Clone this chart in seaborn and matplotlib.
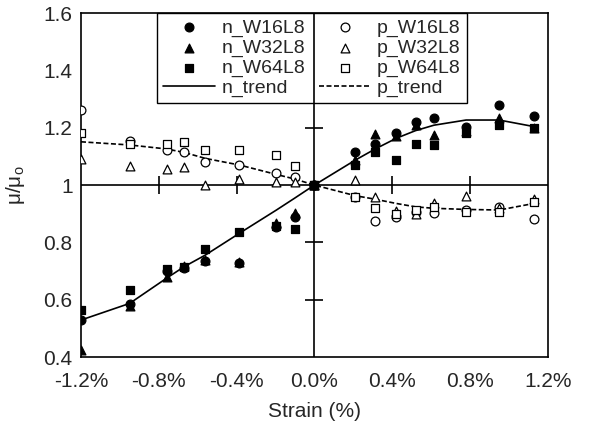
import numpy as np
import pandas as pd
import matplotlib
matplotlib.use("Agg")
import matplotlib.pyplot as plt
import seaborn as sns

# DATA

strain = [-1.2, -0.95, -0.76, -0.67, -0.56, -0.385, -0.195, -0.1, 0.0,
          0.21, 0.31, 0.42, 0.52, 0.615, 0.78, 0.95, 1.13]

n_W16L8 = [0.530, 0.585, 0.700, 0.712, 0.735, 0.727, 0.853, 0.887, 1.0,
           1.116, 1.145, 1.180, 1.221, 1.233, 1.204, 1.279, 1.241]
n_W32L8 = [0.425, 0.579, 0.680, 0.718, 0.740, 0.733, 0.866, 0.901, 1.0,
           1.087, 1.177, 1.170, 1.210, 1.174, 1.190, 1.233, 1.200]
n_W64L8 = [0.564, 0.634, 0.706, 0.715, 0.777, 0.837, 0.857, 0.846, 1.0,
           1.070, 1.116, 1.087, 1.145, 1.140, 1.180, 1.209, 1.198]

p_W16L8 = [1.262, 1.155, 1.122, 1.114, 1.081, 1.070, 1.043, 1.029, 1.0,
           0.960, 0.875, 0.890, 0.905, 0.901, 0.914, 0.924, 0.880]
p_W32L8 = [1.090, 1.068, 1.056, 1.064, 1.002, 1.021, 1.009, 1.009, 1.0,
           1.018, 0.959, 0.910, 0.900, 0.936, 0.962, 0.920, 0.951]
p_W64L8 = [1.180, 1.143, 1.145, 1.151, 1.122, 1.122, 1.105, 1.066, 1.0,
           0.959, 0.921, 0.898, 0.913, 0.925, 0.906, 0.907, 0.940]

n_trend = [0.529, 0.587, 0.675, 0.715, 0.756, 0.832, 0.913, 0.955, 1.0,
           1.087, 1.125, 1.163, 1.190, 1.209, 1.227, 1.227, 1.204]
p_trend = [1.151, 1.140, 1.126, 1.114, 1.093, 1.070, 1.037, 1.021, 1.0,
           0.963, 0.951, 0.936, 0.924, 0.919, 0.915, 0.913, 0.936]

x_ticks = [-1.2, -0.8, -0.4, 0.0, 0.4, 0.8, 1.2]
x_labels = ['-1.2%', '-0.8%', '-0.4%', '0.0%', '0.4%', '0.8%', '1.2%']
y_ticks = [0.4, 0.6, 0.8, 1.0, 1.2, 1.4, 1.6]
y_labels = ['0.4', '0.6', '0.8', '1', '1.2', '1.4', '1.6']

# STYLE

sns.set_style("white")
plt.rcParams['font.family'] = ['Liberation Sans', 'DejaVu Sans']
plt.rcParams['font.size'] = 14

fig = plt.figure(figsize=(5.89, 4.24), dpi=100)
ax = fig.add_axes([0.1375, 0.158, 0.7925, 0.811])

# zero lines through the plot (drawn over the legend box like the original)
ax.axhline(1.0, color='black', lw=1.2, zorder=2)
ax.axvline(0.0, color='black', lw=1.2, zorder=2)

# small cross ticks on the inner axis lines
inner_x = [t for t in x_ticks if t not in (-1.2, 0.0, 1.2)]
inner_y = [t for t in y_ticks if t not in (0.4, 1.0, 1.6)]
ax.plot(inner_x, [1.0] * len(inner_x), ls='none', marker='|', ms=13,
        mew=1.2, color='black', zorder=1)
ax.plot([0.0] * len(inner_y), inner_y, ls='none', marker='_', ms=13,
        mew=1.2, color='black', zorder=1)

# SCATTER SERIES (p first so the filled n markers sit on top at the origin)

series = [
    ('p_W16L8', p_W16L8, 'o', 'white'),
    ('p_W32L8', p_W32L8, '^', 'white'),
    ('p_W64L8', p_W64L8, 's', 'white'),
    ('n_W16L8', n_W16L8, 'o', 'black'),
    ('n_W32L8', n_W32L8, '^', 'black'),
    ('n_W64L8', n_W64L8, 's', 'black'),
]

for name, vals, mk, fc in series:
    sns.scatterplot(x=strain, y=vals, marker=mk, s=40, color=fc,
                    edgecolor='black', linewidth=0.9, ax=ax, zorder=3,
                    label=name)

# TREND LINES

sns.lineplot(x=strain, y=n_trend, color='black', lw=1.2, ax=ax,
             label='n_trend', zorder=2.5)
sns.lineplot(x=strain, y=p_trend, color='black', lw=1.2, ax=ax,
             label='p_trend', zorder=2.5, linestyle=(0, (3, 1.5)))

h, l = ax.get_legend_handles_labels()
order = ['n_W16L8', 'n_W32L8', 'n_W64L8', 'n_trend',
         'p_W16L8', 'p_W32L8', 'p_W64L8', 'p_trend']
hl = dict(zip(l, h))
leg = ax.legend([hl[k] for k in order], order, ncol=2,
                loc='upper left', bbox_to_anchor=(0.163, 1.0),
                frameon=True, fancybox=False, edgecolor='black',
                framealpha=1.0, fontsize=14, handlelength=2.7,
                handletextpad=0.3, columnspacing=0.7, labelspacing=0.12,
                borderpad=0.3, borderaxespad=0.0)
leg.get_frame().set_linewidth(1.0)
leg.set_zorder(1.5)

# AXES

ax.set_xlim(-1.2, 1.2)
ax.set_ylim(0.4, 1.6)
ax.set_xticks(x_ticks)
ax.set_xticklabels(x_labels)
ax.set_yticks(y_ticks)
ax.set_yticklabels(y_labels)
ax.tick_params(axis='y', length=0, pad=6, labelsize=15)
ax.tick_params(axis='x', length=0, pad=11, labelsize=15)

for s in ax.spines.values():
    s.set_color('black')
    s.set_linewidth(1.2)

ax.set_xlabel('Strain (%)', fontsize=15, labelpad=8)
ax.set_ylabel('μ/μ$_\\mathregular{o}$', fontsize=15, labelpad=12)

plt.savefig('out.png', dpi=100)
